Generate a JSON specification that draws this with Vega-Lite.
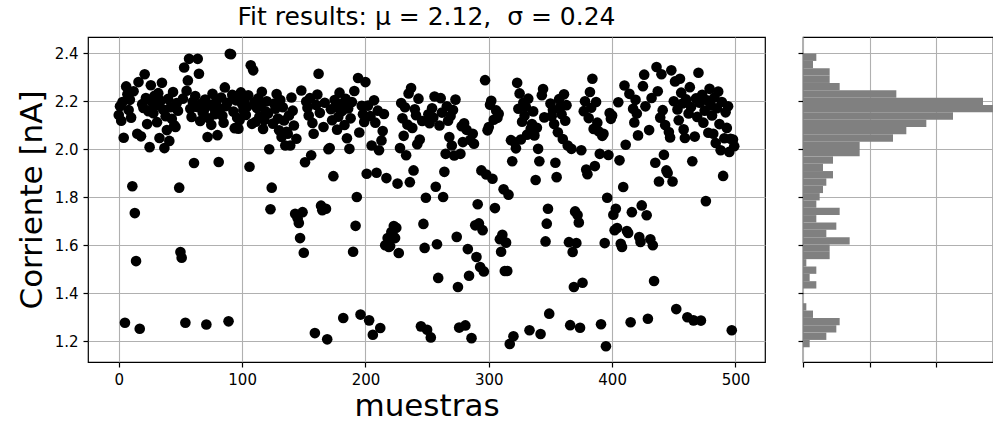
{
"$schema": "https://vega.github.io/schema/vega-lite/v6.json",
"padding": {"left": 15, "top": 4, "right": 0, "bottom": 0},
"config": {
"font": "DejaVu Sans",
"view": {"stroke": "black", "strokeWidth": 1.2},
"axis": {"domain": false, "grid": true, "gridColor": "#b0b0b0", "gridWidth": 1.1, "tickColor": "black", "tickWidth": 1.2, "tickSize": 5, "labelFontSize": 15, "labelColor": "black", "labelPadding": 5, "labelFont": "DejaVu Sans", "titleFont": "DejaVu Sans", "titleFontSize": 31, "titleFontWeight": "normal", "titleColor": "black"},
"title": {"font": "DejaVu Sans", "fontSize": 25, "fontWeight": "normal", "color": "black"}
},
"data": {"values": [
{"x":0,"y":2.142},{"x":1,"y":2.178},{"x":2,"y":2.118},{"x":3,"y":2.196},{"x":4,"y":2.047},{"x":5,"y":1.276},{"x":6,"y":2.261},{"x":7,"y":2.228},{"x":8,"y":2.163},{"x":9,"y":2.205},
{"x":10,"y":2.131},{"x":11,"y":1.845},{"x":12,"y":2.241},{"x":13,"y":1.733},{"x":14,"y":1.533},{"x":15,"y":2.064},{"x":16,"y":2.279},{"x":17,"y":1.251},{"x":18,"y":2.053},{"x":19,"y":2.187},
{"x":20,"y":2.171},{"x":21,"y":2.312},{"x":22,"y":2.213},{"x":23,"y":2.104},{"x":24,"y":2.158},{"x":25,"y":2.008},{"x":26,"y":2.266},{"x":27,"y":2.195},{"x":28,"y":2.149},{"x":29,"y":2.222},
{"x":30,"y":2.182},{"x":31,"y":2.112},{"x":32,"y":2.233},{"x":33,"y":2.046},{"x":34,"y":2.201},{"x":35,"y":2.276},{"x":36,"y":2.165},{"x":37,"y":2.004},{"x":38,"y":2.137},{"x":39,"y":2.079},
{"x":40,"y":2.209},{"x":41,"y":2.034},{"x":42,"y":2.174},{"x":43,"y":2.126},{"x":44,"y":2.238},{"x":45,"y":2.099},{"x":46,"y":2.092},{"x":47,"y":2.192},{"x":48,"y":2.160},{"x":49,"y":1.839},
{"x":50,"y":1.571},{"x":51,"y":1.547},{"x":52,"y":2.210},{"x":53,"y":2.340},{"x":54,"y":1.276},{"x":55,"y":2.243},{"x":56,"y":2.286},{"x":57,"y":2.376},{"x":58,"y":2.168},{"x":59,"y":2.134},
{"x":60,"y":2.197},{"x":61,"y":1.942},{"x":62,"y":2.221},{"x":63,"y":2.176},{"x":64,"y":2.376},{"x":65,"y":2.314},{"x":66,"y":2.117},{"x":67,"y":2.189},{"x":68,"y":2.152},{"x":69,"y":2.161},
{"x":70,"y":2.206},{"x":71,"y":1.269},{"x":72,"y":2.050},{"x":73,"y":2.128},{"x":74,"y":2.184},{"x":75,"y":2.101},{"x":76,"y":2.230},{"x":77,"y":2.172},{"x":78,"y":2.145},{"x":79,"y":2.198},
{"x":80,"y":2.058},{"x":81,"y":1.946},{"x":82,"y":2.167},{"x":83,"y":2.215},{"x":84,"y":2.139},{"x":85,"y":2.110},{"x":86,"y":2.257},{"x":87,"y":2.179},{"x":88,"y":2.193},{"x":89,"y":1.282},
{"x":90,"y":2.397},{"x":91,"y":2.395},{"x":92,"y":2.226},{"x":93,"y":2.156},{"x":94,"y":2.087},{"x":95,"y":2.203},{"x":96,"y":2.130},{"x":97,"y":2.085},{"x":98,"y":2.121},{"x":99,"y":2.236},
{"x":100,"y":2.188},{"x":101,"y":2.163},{"x":102,"y":2.207},{"x":103,"y":2.142},{"x":104,"y":2.176},{"x":105,"y":2.224},{"x":106,"y":1.926},{"x":107,"y":2.349},{"x":108,"y":2.105},{"x":109,"y":2.328},
{"x":110,"y":2.195},{"x":111,"y":2.114},{"x":112,"y":2.171},{"x":113,"y":2.211},{"x":114,"y":2.135},{"x":115,"y":2.182},{"x":116,"y":2.239},{"x":117,"y":2.084},{"x":118,"y":2.121},{"x":119,"y":2.157},
{"x":120,"y":2.199},{"x":121,"y":2.148},{"x":122,"y":1.999},{"x":123,"y":1.749},{"x":124,"y":1.839},{"x":125,"y":2.106},{"x":126,"y":2.190},{"x":127,"y":2.168},{"x":128,"y":2.229},{"x":129,"y":2.127},
{"x":130,"y":2.078},{"x":131,"y":2.204},{"x":132,"y":2.050},{"x":133,"y":2.174},{"x":134,"y":2.119},{"x":135,"y":2.015},{"x":136,"y":2.072},{"x":137,"y":2.064},{"x":138,"y":2.140},{"x":139,"y":2.015},
{"x":140,"y":2.215},{"x":141,"y":2.160},{"x":142,"y":2.098},{"x":143,"y":1.730},{"x":144,"y":2.043},{"x":145,"y":1.712},{"x":146,"y":1.692},{"x":147,"y":1.629},{"x":148,"y":2.244},{"x":149,"y":1.737},
{"x":150,"y":1.568},{"x":151,"y":1.945},{"x":152,"y":2.198},{"x":153,"y":2.172},{"x":154,"y":2.140},{"x":155,"y":2.212},{"x":156,"y":1.974},{"x":157,"y":2.109},{"x":158,"y":2.064},{"x":159,"y":1.233},
{"x":160,"y":2.184},{"x":161,"y":2.227},{"x":162,"y":2.314},{"x":163,"y":2.151},{"x":164,"y":1.764},{"x":165,"y":1.745},{"x":166,"y":2.092},{"x":167,"y":2.193},{"x":168,"y":1.751},{"x":169,"y":1.207},
{"x":170,"y":1.999},{"x":171,"y":2.004},{"x":172,"y":2.166},{"x":173,"y":2.120},{"x":174,"y":1.887},{"x":175,"y":2.204},{"x":176,"y":2.176},{"x":177,"y":2.081},{"x":178,"y":2.135},{"x":179,"y":2.235},
{"x":180,"y":2.188},{"x":181,"y":2.159},{"x":182,"y":1.296},{"x":183,"y":2.100},{"x":184,"y":2.209},{"x":185,"y":2.045},{"x":186,"y":2.169},{"x":187,"y":2.001},{"x":188,"y":2.128},{"x":189,"y":2.196},
{"x":190,"y":1.572},{"x":191,"y":2.242},{"x":192,"y":1.680},{"x":193,"y":1.800},{"x":194,"y":2.296},{"x":195,"y":2.069},{"x":196,"y":1.310},{"x":197,"y":2.180},{"x":198,"y":2.145},{"x":199,"y":2.113},
{"x":200,"y":2.279},{"x":201,"y":1.897},{"x":202,"y":2.181},{"x":203,"y":1.286},{"x":204,"y":2.137},{"x":205,"y":2.015},{"x":206,"y":1.226},{"x":207,"y":2.203},{"x":208,"y":2.110},{"x":209,"y":1.901},
{"x":210,"y":2.160},{"x":211,"y":1.995},{"x":212,"y":1.254},{"x":213,"y":2.036},{"x":214,"y":2.075},{"x":215,"y":2.146},{"x":216,"y":1.599},{"x":217,"y":1.879},{"x":218,"y":1.629},{"x":219,"y":1.592},
{"x":220,"y":1.596},{"x":221,"y":1.654},{"x":222,"y":1.645},{"x":223,"y":1.679},{"x":224,"y":1.629},{"x":225,"y":1.672},{"x":226,"y":1.856},{"x":227,"y":1.567},{"x":228,"y":2.004},{"x":229,"y":2.192},
{"x":230,"y":2.128},{"x":231,"y":2.055},{"x":232,"y":2.174},{"x":233,"y":1.974},{"x":234,"y":2.102},{"x":235,"y":2.232},{"x":236,"y":1.862},{"x":237,"y":2.254},{"x":238,"y":2.088},{"x":239,"y":1.911},
{"x":240,"y":2.166},{"x":241,"y":2.141},{"x":242,"y":2.020},{"x":243,"y":2.210},{"x":244,"y":2.040},{"x":245,"y":1.261},{"x":246,"y":2.117},{"x":247,"y":1.688},{"x":248,"y":1.588},{"x":249,"y":1.797},
{"x":250,"y":1.247},{"x":251,"y":2.145},{"x":252,"y":2.108},{"x":253,"y":1.215},{"x":254,"y":2.170},{"x":255,"y":2.131},{"x":256,"y":2.219},{"x":257,"y":1.843},{"x":258,"y":1.603},{"x":259,"y":1.463},
{"x":260,"y":2.098},{"x":261,"y":2.212},{"x":262,"y":2.152},{"x":263,"y":1.800},{"x":264,"y":1.905},{"x":265,"y":1.980},{"x":266,"y":2.178},{"x":267,"y":2.118},{"x":268,"y":2.050},{"x":269,"y":2.138},
{"x":270,"y":2.015},{"x":271,"y":2.163},{"x":272,"y":1.973},{"x":273,"y":2.206},{"x":274,"y":1.634},{"x":275,"y":1.425},{"x":276,"y":1.256},{"x":277,"y":1.980},{"x":278,"y":2.095},{"x":279,"y":2.029},
{"x":280,"y":2.107},{"x":281,"y":1.265},{"x":282,"y":2.080},{"x":283,"y":1.583},{"x":284,"y":1.472},{"x":285,"y":2.038},{"x":286,"y":1.212},{"x":287,"y":2.064},{"x":288,"y":2.022},{"x":289,"y":1.682},
{"x":290,"y":1.550},{"x":291,"y":1.770},{"x":292,"y":1.690},{"x":293,"y":1.508},{"x":294,"y":1.911},{"x":295,"y":1.662},{"x":296,"y":1.490},{"x":297,"y":2.287},{"x":298,"y":1.894},{"x":299,"y":2.078},
{"x":300,"y":2.092},{"x":301,"y":2.185},{"x":302,"y":2.201},{"x":303,"y":1.876},{"x":304,"y":2.122},{"x":305,"y":1.754},{"x":306,"y":2.161},{"x":307,"y":2.130},{"x":308,"y":2.147},{"x":309,"y":1.624},
{"x":310,"y":1.572},{"x":311,"y":1.643},{"x":312,"y":1.832},{"x":313,"y":1.492},{"x":314,"y":1.610},{"x":315,"y":1.492},{"x":316,"y":1.810},{"x":317,"y":1.188},{"x":318,"y":2.037},{"x":319,"y":1.949},
{"x":320,"y":1.220},{"x":321,"y":2.028},{"x":322,"y":2.003},{"x":323,"y":2.276},{"x":324,"y":2.168},{"x":325,"y":2.232},{"x":326,"y":2.040},{"x":327,"y":2.114},{"x":328,"y":2.193},{"x":329,"y":2.139},
{"x":330,"y":2.176},{"x":331,"y":2.060},{"x":332,"y":2.210},{"x":333,"y":1.245},{"x":334,"y":2.085},{"x":335,"y":2.104},{"x":336,"y":2.157},{"x":337,"y":2.057},{"x":338,"y":1.871},{"x":339,"y":2.089},
{"x":340,"y":2.001},{"x":341,"y":1.949},{"x":342,"y":1.229},{"x":343,"y":2.224},{"x":344,"y":2.250},{"x":345,"y":2.132},{"x":346,"y":1.615},{"x":347,"y":1.689},{"x":348,"y":1.751},{"x":349,"y":1.314},
{"x":350,"y":2.190},{"x":351,"y":2.137},{"x":352,"y":2.164},{"x":353,"y":2.104},{"x":354,"y":1.943},{"x":355,"y":1.883},{"x":356,"y":2.070},{"x":357,"y":2.208},{"x":358,"y":2.176},{"x":359,"y":2.145},
{"x":360,"y":2.042},{"x":361,"y":2.228},{"x":362,"y":2.118},{"x":363,"y":2.183},{"x":364,"y":2.015},{"x":365,"y":1.612},{"x":366,"y":1.266},{"x":367,"y":2.001},{"x":368,"y":1.571},{"x":369,"y":1.425},
{"x":370,"y":1.740},{"x":371,"y":1.608},{"x":372,"y":1.725},{"x":373,"y":1.694},{"x":374,"y":1.255},{"x":375,"y":1.995},{"x":376,"y":1.443},{"x":377,"y":2.158},{"x":378,"y":2.199},{"x":379,"y":1.915},
{"x":380,"y":1.895},{"x":381,"y":2.129},{"x":382,"y":2.238},{"x":383,"y":2.172},{"x":384,"y":2.293},{"x":385,"y":2.084},{"x":386,"y":1.929},{"x":387,"y":2.196},{"x":388,"y":2.110},{"x":389,"y":2.074},
{"x":390,"y":1.980},{"x":391,"y":1.270},{"x":392,"y":2.055},{"x":393,"y":2.064},{"x":394,"y":1.608},{"x":395,"y":1.178},{"x":396,"y":1.797},{"x":397,"y":1.975},{"x":398,"y":2.150},{"x":399,"y":2.126},
{"x":400,"y":2.140},{"x":401,"y":1.726},{"x":402,"y":1.662},{"x":403,"y":1.751},{"x":404,"y":1.671},{"x":405,"y":2.195},{"x":406,"y":1.953},{"x":407,"y":1.605},{"x":408,"y":1.592},{"x":409,"y":1.842},
{"x":410,"y":2.265},{"x":411,"y":2.018},{"x":412,"y":1.658},{"x":413,"y":1.650},{"x":414,"y":2.230},{"x":415,"y":1.278},{"x":416,"y":1.737},{"x":417,"y":2.168},{"x":418,"y":2.111},{"x":419,"y":2.205},
{"x":420,"y":2.148},{"x":421,"y":2.057},{"x":422,"y":1.633},{"x":423,"y":1.613},{"x":424,"y":1.765},{"x":425,"y":2.262},{"x":426,"y":2.310},{"x":427,"y":2.178},{"x":428,"y":1.724},{"x":429,"y":1.293},
{"x":430,"y":2.079},{"x":431,"y":1.624},{"x":432,"y":2.213},{"x":433,"y":1.599},{"x":434,"y":1.450},{"x":435,"y":1.943},{"x":436,"y":2.342},{"x":437,"y":2.241},{"x":438,"y":1.865},{"x":439,"y":2.131},
{"x":440,"y":2.312},{"x":441,"y":2.162},{"x":442,"y":1.976},{"x":443,"y":2.100},{"x":444,"y":1.911},{"x":445,"y":1.900},{"x":446,"y":2.071},{"x":447,"y":2.048},{"x":448,"y":2.328},{"x":449,"y":1.865},
{"x":450,"y":2.199},{"x":451,"y":2.282},{"x":452,"y":1.333},{"x":453,"y":2.165},{"x":454,"y":2.120},{"x":455,"y":2.293},{"x":456,"y":2.235},{"x":457,"y":2.190},{"x":458,"y":2.082},{"x":459,"y":2.046},
{"x":460,"y":2.207},{"x":461,"y":1.299},{"x":462,"y":2.148},{"x":463,"y":2.258},{"x":464,"y":2.175},{"x":465,"y":1.949},{"x":466,"y":1.286},{"x":467,"y":2.052},{"x":468,"y":2.211},{"x":469,"y":2.134},
{"x":470,"y":2.318},{"x":471,"y":2.193},{"x":472,"y":1.285},{"x":473,"y":2.226},{"x":474,"y":2.110},{"x":475,"y":2.160},{"x":476,"y":1.783},{"x":477,"y":2.203},{"x":478,"y":2.068},{"x":479,"y":2.251},
{"x":480,"y":2.182},{"x":481,"y":2.140},{"x":482,"y":2.064},{"x":483,"y":2.215},{"x":484,"y":2.025},{"x":485,"y":2.170},{"x":486,"y":2.240},{"x":487,"y":2.104},{"x":488,"y":1.995},{"x":489,"y":2.196},
{"x":490,"y":1.888},{"x":491,"y":2.045},{"x":492,"y":2.153},{"x":493,"y":2.088},{"x":494,"y":2.178},{"x":495,"y":1.988},{"x":496,"y":2.043},{"x":497,"y":1.245},{"x":498,"y":2.040},{"x":499,"y":2.012}
]},
"spacing": 38,
"bounds": "flush",
"hconcat": [
{
"width": 677, "height": 325,
"title": {"text": "Fit results: μ = 2.12,\u00a0 σ = 0.24", "offset": -18, "baseline": "bottom"},
"mark": {"type": "circle", "size": 113, "color": "black", "opacity": 1},
"encoding": {
"x": {"field": "x", "type": "quantitative", "scale": {"domain": [-24.95, 523.95], "nice": false, "zero": false}, "axis": {"values": [0,100,200,300,400,500], "title": "muestras", "titlePadding": 4}},
"y": {"field": "y", "type": "quantitative", "scale": {"domain": [1.1125, 2.467], "nice": false, "zero": false}, "axis": {"values": [1.2,1.4,1.6,1.8,2.0,2.2,2.4], "format": ".1f", "title": "Corriente [nA]", "titlePadding": 6}}
}
},
{
"width": 190, "height": 325,
"mark": {"type": "bar", "color": "#808080", "binSpacing": 0},
"encoding": {
"y": {"field": "y", "type": "quantitative", "bin": {"extent": [1.176, 2.4], "step": 0.0306, "nice": false}, "scale": {"domain": [1.1125, 2.467], "nice": false, "zero": false}, "axis": {"values": [1.2,1.4,1.6,1.8,2.0,2.2,2.4], "labels": false, "title": null}},
"x": {"aggregate": "count", "type": "quantitative", "scale": {"domain": [0, 57], "nice": false}, "axis": {"values": [0,20,40], "labels": false, "title": null}}
}
}
]
}
